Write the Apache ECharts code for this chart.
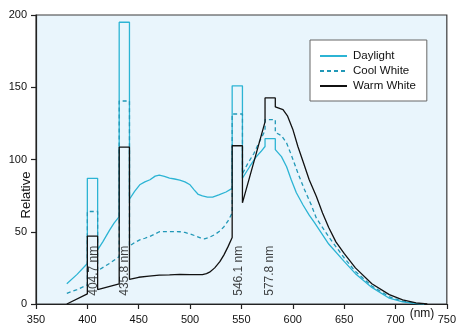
<!DOCTYPE html>
<html>
<head>
<meta charset="utf-8">
<script src="https://cdn.jsdelivr.net/npm/echarts@6/dist/echarts.min.js"></script>
<style>
html,body{margin:0;padding:0;background:#fff;}
#chart{width:459px;height:329px;}
</style>
</head>
<body>
<div id="chart"></div>
<script>
// ---- Data (wavelength in nm, relative power) ----
const seriesNames = ['Daylight', 'Cool White', 'Warm White'];

const daylightNm  = [380, 390, 400, 400, 410, 410, 415, 421.8, 426, 431, 431, 441, 441, 446, 451, 456, 461, 466, 470, 475, 480, 485, 490, 495, 500, 504, 508, 512, 517, 522, 528, 535, 541, 541, 551, 551, 554, 558, 564, 569, 573, 573, 583, 583, 589, 594, 598.5, 603.5, 610, 616, 621, 635, 650, 661, 677, 694, 707, 720, 728];
const daylightVal = [14, 20.5, 28, 87, 87, 37.5, 43, 51.3, 56, 60.5, 195, 195, 72.5, 78, 82.5, 84.5, 86, 88.5, 89.2, 88.3, 87.1, 86.5, 85.7, 84.5, 82.5, 79, 75.8, 74.8, 74, 74, 75.5, 77.5, 80, 151, 151, 87, 90.5, 95, 101.5, 105.5, 109, 114.4, 114.4, 106.8, 102, 95, 86, 77, 68.5, 61.5, 56.5, 41.5, 29.5, 21, 11.5, 4, 1.5, 0.3, 0];

const coolNm  = [380, 390, 400, 400, 410, 410, 421.8, 431, 431, 441, 441, 446, 451, 456, 461, 466, 470, 480, 490, 495, 500, 505, 510, 514, 519, 524, 529, 533, 537, 541, 541, 551, 551, 556, 562, 568, 573, 573, 583, 583, 589, 594, 598.5, 605, 611.5, 618, 623, 635, 650, 661, 677, 694, 707, 720, 728];
const coolVal = [7.4, 10, 13.2, 64, 64, 23, 28.2, 32.8, 140.5, 140.5, 40, 42.5, 44.4, 45.5, 46.8, 48.5, 50, 50.1, 50, 49.5, 48.5, 47.2, 45.8, 45.1, 46.2, 48, 50.5, 53.5, 57.5, 63, 131.5, 131.5, 90, 97, 104, 113, 120, 127.6, 127.6, 118.8, 116.5, 111.4, 103.3, 90.6, 79, 68.6, 59.4, 46.5, 32, 22.5, 12.5, 5, 2, 0.5, 0];

const warmNm  = [380, 400, 400, 410, 410, 431, 431, 441, 441, 450, 460, 470, 480, 490, 500, 505, 512, 516, 519, 524, 529, 533, 537, 541, 541, 551, 551, 573, 573, 583, 583, 590.5, 595, 600, 605, 610, 616, 623, 629, 635, 642, 650, 661, 677, 694, 707, 720, 731];
const warmVal = [0, 7, 47, 47, 10, 14, 108.5, 108.5, 17, 18.5, 19.3, 20, 20.2, 20.5, 20.3, 20.3, 20.3, 21, 22, 25, 29.3, 34, 39.7, 46, 109.5, 109.5, 70, 126, 142.6, 142.6, 136.4, 134.5, 130, 121, 109, 98.6, 86, 74.4, 63, 53, 43, 35, 25, 14, 6.5, 2.8, 0.8, 0];

// mercury line annotations
const lineLabels = ['404.7 nm', '435.8 nm', '546.1 nm', '577.8 nm'];
const lineLabelNm = [406, 436.5, 547.3, 578];
const lineLabelVal = [23, 23, 23, 23];

const xTicks = [350, 750, 50];   // min, max, interval
const yTicks = [0, 200, 50];

// ---- Build ----
const zip = (xs, ys) => xs.map((x, i) => [x, ys[i]]);
const FONT = '"Liberation Sans", Arial, Helvetica, sans-serif';
const cDay = '#2cb4d4';
const cCool = '#2198b7';
const cWarm = '#111111';

const chart = echarts.init(document.getElementById('chart'), null, {renderer: 'canvas'});
chart.setOption({
  animation: false,
  backgroundColor: '#ffffff',
  grid: {
    left: 36, right: 11, top: 15, bottom: 25,
    show: true, backgroundColor: '#e9f5fc', borderColor: '#3a3a3a', borderWidth: 1.2
  },
  legend: {
    orient: 'vertical',
    left: 310, top: 40,
    data: seriesNames,
    backgroundColor: '#ffffff',
    borderColor: '#666666', borderWidth: 1,
    padding: [9, 11, 8, 9],
    itemWidth: 27, itemHeight: 10, itemGap: 1,
    itemStyle: {color: 'rgba(0,0,0,0)', borderWidth: 0, opacity: 0},
    textStyle: {fontFamily: FONT, fontSize: 11.5, color: '#111', lineHeight: 14, padding: [0, 0, 0, 1]}
  },
  xAxis: {
    type: 'value', min: xTicks[0], max: xTicks[1], interval: xTicks[2],
    axisLine: {show: true, lineStyle: {color: '#222', width: 1.2}},
    axisTick: {show: true, length: 5, lineStyle: {color: '#222', width: 1.2}},
    axisLabel: {fontFamily: FONT, fontSize: 11, color: '#111', margin: 10},
    splitLine: {show: false}
  },
  yAxis: {
    type: 'value', min: yTicks[0], max: yTicks[1], interval: yTicks[2],
    axisLine: {show: true, lineStyle: {color: '#222', width: 1.2}},
    axisTick: {show: true, length: 5, lineStyle: {color: '#222', width: 1.2}},
    axisLabel: {fontFamily: FONT, fontSize: 11, color: '#111', margin: 9},
    splitLine: {show: false}
  },
  graphic: [
    {type: 'text', x: 26, y: 195, rotation: Math.PI / 2,
     style: {text: 'Relative', font: '13px ' + FONT, fill: '#111', align: 'center', verticalAlign: 'middle'}},
    {type: 'text', x: 422, y: 314,
     style: {text: '(nm)', font: '12px ' + FONT, fill: '#111', align: 'center', verticalAlign: 'middle'}}
  ],
  series: [
    {name: seriesNames[0], type: 'line', data: zip(daylightNm, daylightVal), symbol: 'none',
     lineStyle: {color: cDay, width: 1.3}, itemStyle: {color: cDay}, z: 2},
    {name: seriesNames[1], type: 'line', data: zip(coolNm, coolVal), symbol: 'none',
     lineStyle: {color: cCool, width: 1.3, type: [4, 3]}, itemStyle: {color: cCool}, z: 3},
    {name: seriesNames[2], type: 'line', data: zip(warmNm, warmVal), symbol: 'none',
     lineStyle: {color: cWarm, width: 1.3}, itemStyle: {color: cWarm}, z: 4},
    {type: 'scatter', symbolSize: 0, silent: true, z: 5,
     data: lineLabelNm.map((x, i) => [x, lineLabelVal[i], lineLabels[i]]),
     label: {show: true, position: 'inside', rotate: 90, formatter: p => p.data[2],
             fontFamily: FONT, fontSize: 12, color: '#111'}}
  ]
});
</script>
</body>
</html>
